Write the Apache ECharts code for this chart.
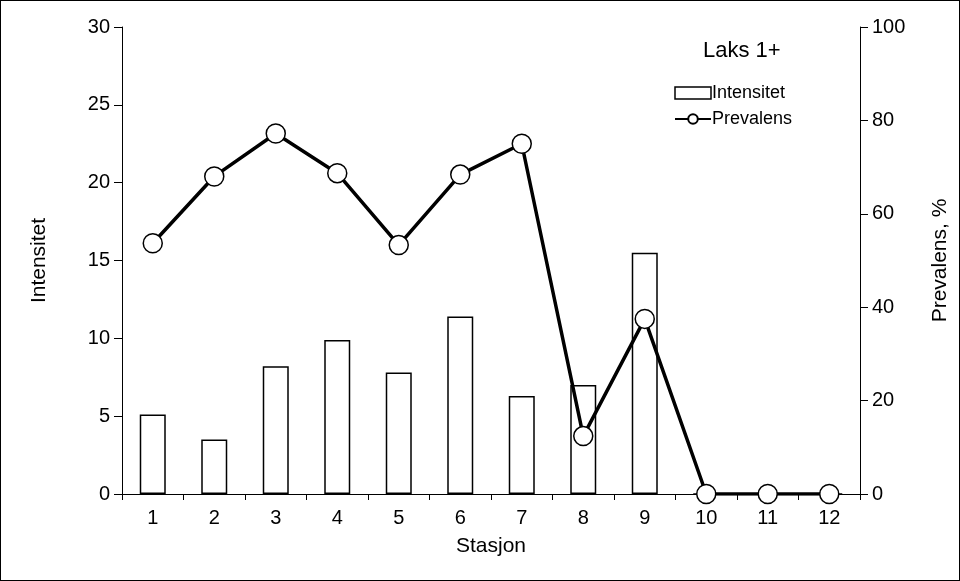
<!DOCTYPE html>
<html><head><meta charset="utf-8">
<script src="https://cdn.jsdelivr.net/npm/echarts@6/dist/echarts.min.js"></script>
<style>html,body{margin:0;padding:0;background:#fff}#c{width:960px;height:581px;box-sizing:border-box;border:1px solid #000}</style>
</head><body><div id="c"></div>
<script>
const stations = ['1','2','3','4','5','6','7','8','9','10','11','12'];
const intensitet = [5.1, 3.5, 8.2, 9.9, 7.8, 11.4, 6.3, 7.0, 15.5, 0, 0, 0];
const prevalens = [53.7, 68, 77.2, 68.7, 53.3, 68.4, 75, 12.4, 37.5, 0, 0, 0];
const font = 'Arial, Liberation Sans, sans-serif';
const chart = echarts.init(document.getElementById('c'));
chart.setOption({
  animation: false,
  textStyle: {fontFamily: font, color: '#000'},
  grid: {left: 121, right: 99, top: 26, bottom: 86},
  title: {text: 'Laks 1+', left: 697, top: 34, textStyle: {fontSize: 22, fontWeight: 'normal', color: '#000', fontFamily: font}},
  legend: {orient: 'vertical', left: 668, top: 78, itemGap: 8, itemWidth: 36, itemHeight: 12,
    textStyle: {fontSize: 18, color: '#000', fontFamily: font, padding: [0,0,0,-4]},
    data: [{name: 'Intensitet', icon: 'rect', itemStyle: {color: '#fff', borderColor: '#000', borderWidth: 1.5}},
           {name: 'Prevalens'}]},
  xAxis: {type: 'category', data: stations, name: 'Stasjon', nameLocation: 'middle', nameGap: 42,
    nameTextStyle: {fontSize: 21, color: '#000'},
    axisLine: {lineStyle: {color: '#000'}}, axisTick: {show: true, length: 6, lineStyle: {color: '#000'}},
    axisLabel: {fontSize: 20, color: '#000', margin: 14}},
  yAxis: [
    {type: 'value', min: 0, max: 30, interval: 5, name: 'Intensitet', nameLocation: 'middle', nameGap: 72,
     nameTextStyle: {fontSize: 21, color: '#000'},
     axisLine: {show: true, lineStyle: {color: '#000'}}, axisTick: {show: true, length: 8, lineStyle: {color: '#000'}},
     axisLabel: {fontSize: 20, color: '#000', margin: 12}, splitLine: {show: false}},
    {type: 'value', min: 0, max: 100, interval: 20, name: 'Prevalens, %', nameLocation: 'middle', nameGap: 70,
     nameTextStyle: {fontSize: 21, color: '#000'},
     axisLine: {show: true, lineStyle: {color: '#000'}}, axisTick: {show: true, length: 8, lineStyle: {color: '#000'}},
     axisLabel: {fontSize: 20, color: '#000', margin: 12}, splitLine: {show: false}}
  ],
  series: [
    {name: 'Intensitet', type: 'bar', data: intensitet, barWidth: 26,
     itemStyle: {color: '#fff', borderColor: '#000', borderWidth: 1.5}},
    {name: 'Prevalens', type: 'line', yAxisIndex: 1, data: prevalens, symbol: 'circle', symbolSize: 19,
     lineStyle: {color: '#000', width: 3.5}, itemStyle: {color: '#fff', borderColor: '#000', borderWidth: 1.5}}
  ]
});
</script></body></html>
